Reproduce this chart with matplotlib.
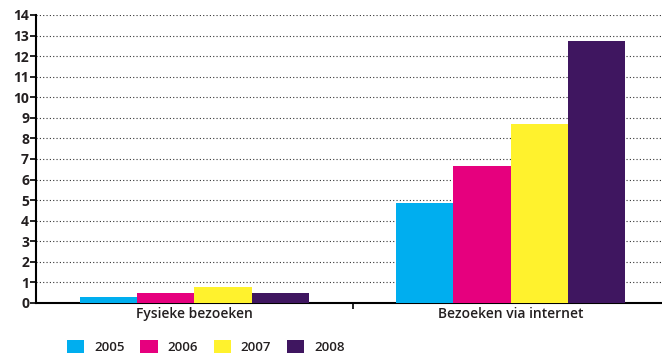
import numpy as np
import matplotlib
matplotlib.use('Agg')
import matplotlib.pyplot as plt
from matplotlib.patches import Patch

# data (miljoen bezoeken)
categories = ['Fysieke bezoeken', 'Bezoeken via internet']
years = ['2005', '2006', '2007', '2008']
v2005 = [0.3, 4.88]
v2006 = [0.5, 6.65]
v2007 = [0.78, 8.7]
v2008 = [0.47, 12.75]
yticks = list(range(0, 15))

colors = ['#00aeef', '#e6007e', '#fff22d', '#3f1660']
series = [v2005, v2006, v2007, v2008]

plt.rcParams['font.family'] = ['Open Sans', 'DejaVu Sans']
text_col = '#231f20'

fig = plt.figure(figsize=(6.62, 3.53), dpi=100)
ax = fig.add_axes([36 / 662, 50 / 353, 633 / 662, 288 / 353])

x = np.arange(len(categories))
w = 0.181
for i, (vals, c) in enumerate(zip(series, colors)):
    ax.bar(x + (i - 1.5) * w, vals, width=w, color=c, zorder=3)

ax.set_xlim(-0.5, 1.5)
ax.set_ylim(0, 14)
ax.set_yticks(yticks)
ax.set_yticklabels([str(t) for t in yticks], fontsize=10, fontweight='bold', color=text_col)
ax.yaxis.grid(True, linestyle=(0, (1, 2)), color='#333333', linewidth=0.8, zorder=0)
ax.tick_params(axis='y', length=4, width=1.2, pad=1)

ax.set_xticks([0.5])
ax.set_xticklabels([''])
ax.tick_params(axis='x', length=4, width=1.2, direction='out')

for s in ['top', 'right']:
    ax.spines[s].set_visible(False)
ax.spines['left'].set_linewidth(1.5)
ax.spines['bottom'].set_linewidth(1.5)

for xi, lab in zip(x, categories):
    ax.text(xi, -0.55, lab, ha='center', va='center', fontsize=10,
            fontweight='semibold', color=text_col, transform=ax.transData, clip_on=False)

handles = [Patch(facecolor=c, edgecolor='none') for c in colors]
fig.legend(handles, years, loc='center left', bbox_to_anchor=(67 / 662, 1 - 347 / 353),
           ncol=4, frameon=False, handlelength=1.3, handleheight=1.15,
           handletextpad=0.75, columnspacing=1.2, borderaxespad=0, borderpad=0,
           prop={'size': 9.5, 'weight': 'semibold'}, labelcolor=text_col)

fig.savefig('out.png', dpi=100)
